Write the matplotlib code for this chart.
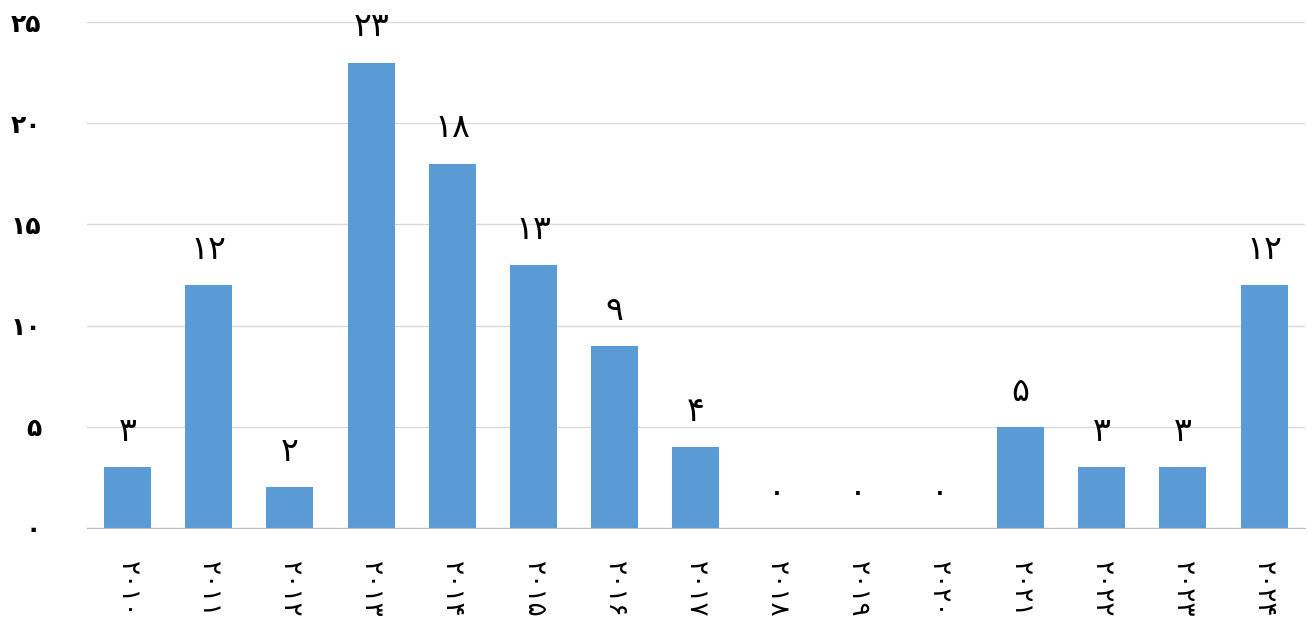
import matplotlib
matplotlib.use("Agg")
import matplotlib.pyplot as plt

years = ["۲۰۱۰", "۲۰۱۱", "۲۰۱۲", "۲۰۱۳", "۲۰۱۴", "۲۰۱۵", "۲۰۱۶", "۲۰۱۷",
         "۲۰۱۸", "۲۰۱۹", "۲۰۲۰", "۲۰۲۱", "۲۰۲۲", "۲۰۲۳", "۲۰۲۴"]
values = [3, 12, 2, 23, 18, 13, 9, 4, 0, 0, 0, 5, 3, 3, 12]
yticks = [0, 5, 10, 15, 20, 25]

fa_digits = str.maketrans("0123456789", "۰۱۲۳۴۵۶۷۸۹")
def fa(n):
    return str(n).translate(fa_digits)

plt.rcParams['font.family'] = ['DejaVu Sans']

fig = plt.figure(figsize=(13.08, 6.30), dpi=100)
ax = fig.add_axes([0.0665, 0.162, 0.931, 0.803])

x = list(range(len(years)))
ax.bar(x, values, width=0.58, color="#5B9BD5", zorder=3)

for xi, v in zip(x, values):
    ax.text(xi, v + 0.95, fa(v), ha="center", va="bottom", fontsize=24,
            color="black")

ax.set_xlim(-0.5, len(years) - 0.5)
ax.set_ylim(0, 25)
ax.set_yticks(yticks)
ax.set_yticklabels([fa(t) for t in yticks], fontsize=18, fontweight="bold")
ax.set_xticks(x)
ax.set_xticklabels(years, rotation=270, fontsize=19, va="top")
ax.tick_params(axis="y", length=0, pad=33)
ax.tick_params(axis="x", length=0, pad=24)
ax.yaxis.grid(True, color="#D9D9D9", linewidth=1, zorder=0)
for s in ["left", "right", "top"]:
    ax.spines[s].set_visible(False)
ax.spines["bottom"].set_color("#BFBFBF")
ax.spines["bottom"].set_zorder(4)

fig.savefig("out.png", dpi=100)
